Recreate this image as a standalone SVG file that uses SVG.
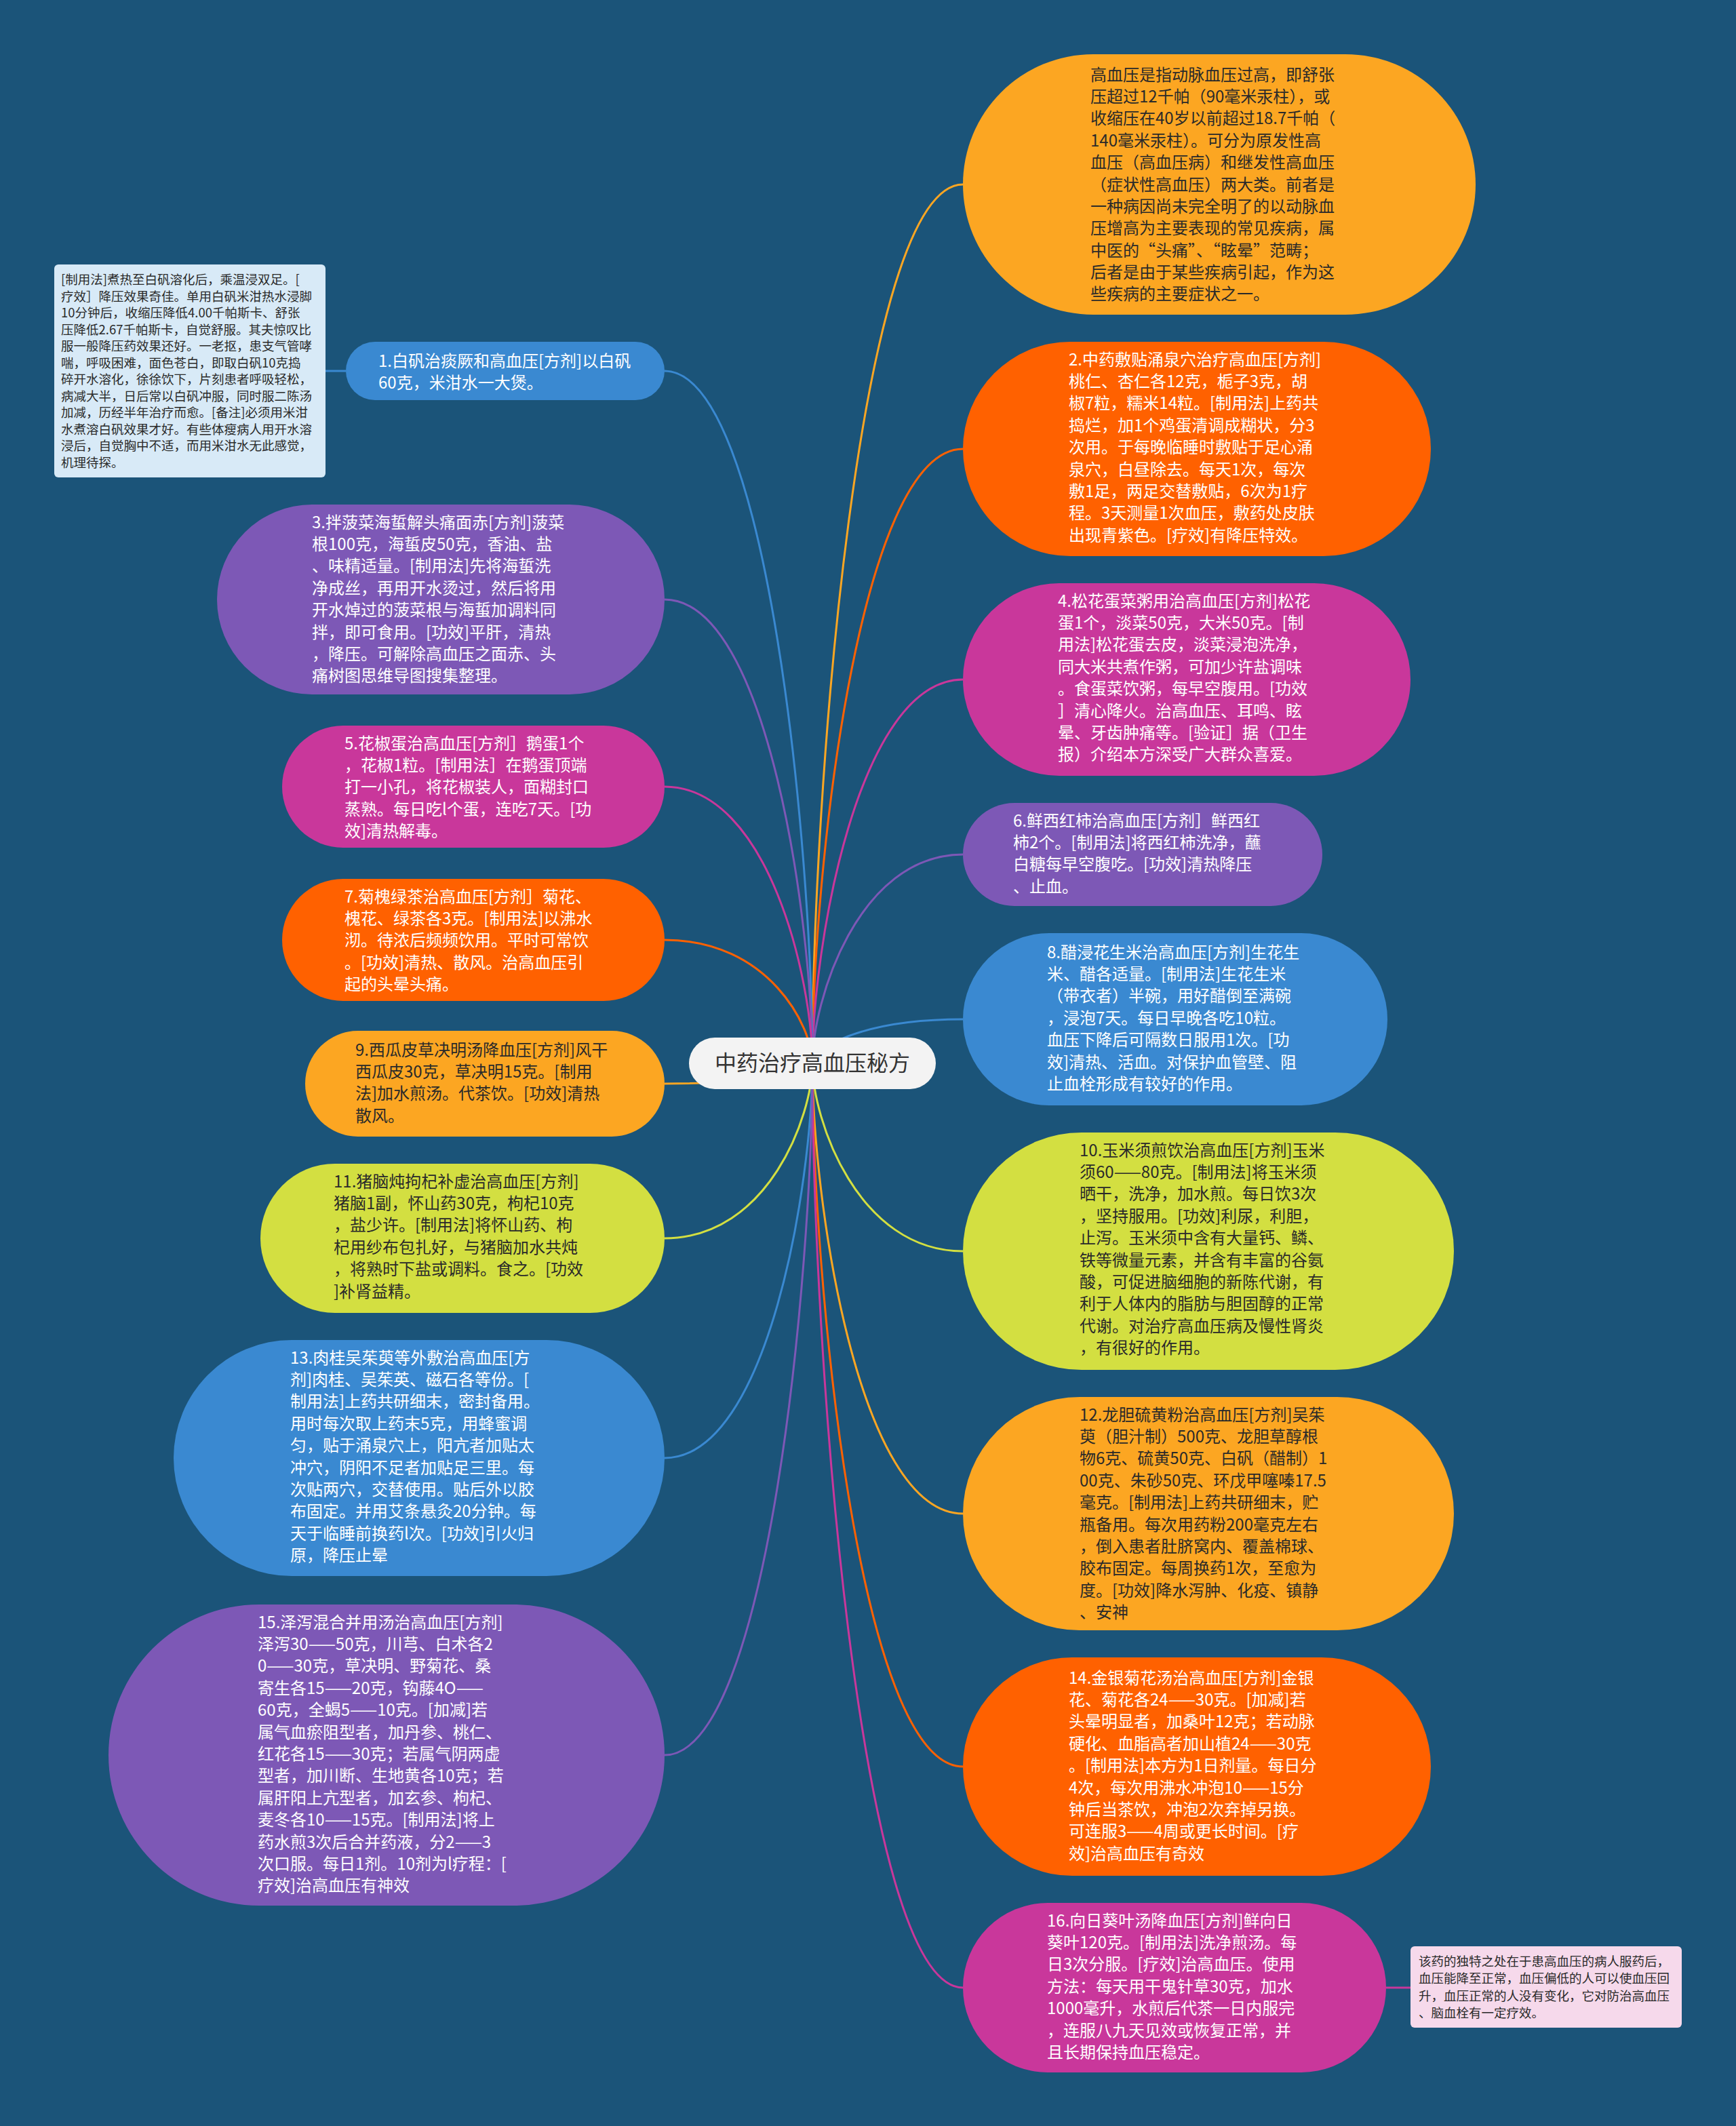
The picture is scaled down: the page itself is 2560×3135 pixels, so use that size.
<svg xmlns="http://www.w3.org/2000/svg" width="2560" height="3135" viewBox="0 0 2560 3135">
<style>
.t{font-family:"Noto Sans CJK SC","Noto Sans",sans-serif;font-size:24px}
.w{fill:#ffffff}
.d{fill:#2a2a2a}
.n{font-family:"Noto Sans CJK SC","Noto Sans",sans-serif;font-size:18.5px;fill:#2a2a2a}
.c{fill:none;stroke-width:3}
.or{fill:#FCA622}.rd{fill:#FF6100}.mg{fill:#C9379B}.pu{fill:#7D58B6}.bl{fill:#3A89D1}.yg{fill:#D3DF41}
.sor{stroke:#FCA622}.srd{stroke:#FF6100}.smg{stroke:#C9379B}.spu{stroke:#7D58B6}.sbl{stroke:#3A89D1}.syg{stroke:#D3DF41}
</style>
<rect x="0" y="0" width="2560" height="3135" fill="#1B5479"/>
<g id="connectors">
<path class="c sor" d="M1198 1568 C1198 1179 1265 272 1420 272"/>
<path class="c srd" d="M1198 1568 C1198 1296 1265 662 1420 662"/>
<path class="c smg" d="M1198 1568 C1198 1398 1265 1002 1420 1002"/>
<path class="c spu" d="M1198 1568 C1198 1476 1265 1260 1420 1260"/>
<path class="c sbl" d="M1198 1568 C1198 1548 1265 1503 1420 1503"/>
<path class="c syg" d="M1198 1568 C1198 1651 1265 1845 1420 1845"/>
<path class="c sor" d="M1198 1568 C1198 1767 1265 2232 1420 2232"/>
<path class="c srd" d="M1198 1568 C1198 1879 1265 2605 1420 2605"/>
<path class="c smg" d="M1198 1568 C1198 1977 1265 2931 1420 2931"/>
<path class="c sbl" d="M1198 1568 C1198 1262 1133 547 980 547"/>
<path class="c spu" d="M1198 1568 C1198 1363 1133 884 980 884"/>
<path class="c smg" d="M1198 1568 C1198 1446 1133 1160 980 1160"/>
<path class="c srd" d="M1198 1568 C1198 1513 1133 1386 980 1386"/>
<path class="c sor" d="M1198 1568 C1198 1577 1133 1598 980 1598"/>
<path class="c syg" d="M1198 1568 C1198 1645 1133 1826 980 1826"/>
<path class="c sbl" d="M1198 1568 C1198 1743 1133 2150 980 2150"/>
<path class="c spu" d="M1198 1568 C1198 1874 1133 2588 980 2588"/>
<path class="c sbl" d="M510 547 L480 547"/>
<path class="c smg" d="M2044 2931 L2080 2931"/>
</g>
<g id="center">
<rect x="1016" y="1530" width="364" height="76" rx="38" fill="#F3F3F3"/>
<text x="1198" y="1579" text-anchor="middle" style="font-family:'Noto Sans CJK SC',sans-serif;font-size:32px;fill:#333">中药治疗高血压秘方</text>
</g>
<g id="node-intro">
<rect class="or" x="1420" y="80" width="756" height="384" rx="192"/>
<text class="t d" x="1608" y="118.5"><tspan x="1608">高血压是指动脉血压过高，即舒张</tspan><tspan x="1608" dy="32.4">压超过12千帕（90毫米汞柱），或</tspan><tspan x="1608" dy="32.4">收缩压在40岁以前超过18.7千帕（</tspan><tspan x="1608" dy="32.4">140毫米汞柱）。可分为原发性高</tspan><tspan x="1608" dy="32.4">血压（高血压病）和继发性高血压</tspan><tspan x="1608" dy="32.4">（症状性高血压）两大类。前者是</tspan><tspan x="1608" dy="32.4">一种病因尚未完全明了的以动脉血</tspan><tspan x="1608" dy="32.4">压增高为主要表现的常见疾病，属</tspan><tspan x="1608" dy="32.4">中医的“头痛”、“眩晕”范畴；</tspan><tspan x="1608" dy="32.4">后者是由于某些疾病引起，作为这</tspan><tspan x="1608" dy="32.4">些疾病的主要症状之一。</tspan></text>
</g>
<g id="node-2">
<rect class="rd" x="1420" y="504" width="690" height="316" rx="158"/>
<text class="t w" x="1576" y="538.5"><tspan x="1576">2.中药敷贴涌泉穴治疗高血压[方剂]</tspan><tspan x="1576" dy="32.4">桃仁、杏仁各12克，栀子3克，胡</tspan><tspan x="1576" dy="32.4">椒7粒，糯米14粒。[制用法]上药共</tspan><tspan x="1576" dy="32.4">捣烂，加1个鸡蛋清调成糊状，分3</tspan><tspan x="1576" dy="32.4">次用。于每晚临睡时敷贴于足心涌</tspan><tspan x="1576" dy="32.4">泉穴，白昼除去。每天1次，每次</tspan><tspan x="1576" dy="32.4">敷1足，两足交替敷贴，6次为1疗</tspan><tspan x="1576" dy="32.4">程。3天测量1次血压，敷药处皮肤</tspan><tspan x="1576" dy="32.4">出现青紫色。[疗效]有降压特效。</tspan></text>
</g>
<g id="node-4">
<rect class="mg" x="1420" y="860" width="660" height="284" rx="142"/>
<text class="t w" x="1560" y="894.5"><tspan x="1560">4.松花蛋菜粥用治高血压[方剂]松花</tspan><tspan x="1560" dy="32.4">蛋1个，淡菜50克，大米50克。[制</tspan><tspan x="1560" dy="32.4">用法]松花蛋去皮，淡菜浸泡洗净，</tspan><tspan x="1560" dy="32.4">同大米共煮作粥，可加少许盐调味</tspan><tspan x="1560" dy="32.4">。食蛋菜饮粥，每早空腹用。[功效</tspan><tspan x="1560" dy="32.4">］清心降火。治高血压、耳鸣、眩</tspan><tspan x="1560" dy="32.4">晕、牙齿肿痛等。[验证］据（卫生</tspan><tspan x="1560" dy="32.4">报）介绍本方深受广大群众喜爱。</tspan></text>
</g>
<g id="node-6">
<rect class="pu" x="1420" y="1184" width="530" height="152" rx="76"/>
<text class="t w" x="1494" y="1218.5"><tspan x="1494">6.鲜西红柿治高血压[方剂］鲜西红</tspan><tspan x="1494" dy="32.4">柿2个。[制用法]将西红柿洗净，蘸</tspan><tspan x="1494" dy="32.4">白糖每早空腹吃。[功效]清热降压</tspan><tspan x="1494" dy="32.4">、止血。</tspan></text>
</g>
<g id="node-8">
<rect class="bl" x="1420" y="1376" width="626" height="254" rx="127"/>
<text class="t w" x="1544" y="1412.5"><tspan x="1544">8.醋浸花生米治高血压[方剂]生花生</tspan><tspan x="1544" dy="32.4">米、醋各适量。[制用法]生花生米</tspan><tspan x="1544" dy="32.4">（带衣者）半碗，用好醋倒至满碗</tspan><tspan x="1544" dy="32.4">，浸泡7天。每日早晚各吃10粒。</tspan><tspan x="1544" dy="32.4">血压下降后可隔数日服用1次。[功</tspan><tspan x="1544" dy="32.4">效]清热、活血。对保护血管壁、阻</tspan><tspan x="1544" dy="32.4">止血栓形成有较好的作用。</tspan></text>
</g>
<g id="node-10">
<rect class="yg" x="1420" y="1670" width="724" height="350" rx="175"/>
<text class="t d" x="1592" y="1704.5"><tspan x="1592">10.玉米须煎饮治高血压[方剂]玉米</tspan><tspan x="1592" dy="32.4">须60——80克。[制用法]将玉米须</tspan><tspan x="1592" dy="32.4">晒干，洗净，加水煎。每日饮3次</tspan><tspan x="1592" dy="32.4">，坚持服用。[功效]利尿，利胆，</tspan><tspan x="1592" dy="32.4">止泻。玉米须中含有大量钙、鳞、</tspan><tspan x="1592" dy="32.4">铁等微量元素，并含有丰富的谷氨</tspan><tspan x="1592" dy="32.4">酸，可促进脑细胞的新陈代谢，有</tspan><tspan x="1592" dy="32.4">利于人体内的脂肪与胆固醇的正常</tspan><tspan x="1592" dy="32.4">代谢。对治疗高血压病及慢性肾炎</tspan><tspan x="1592" dy="32.4">，有很好的作用。</tspan></text>
</g>
<g id="node-12">
<rect class="or" x="1420" y="2060" width="724" height="344" rx="172"/>
<text class="t d" x="1592" y="2094.5"><tspan x="1592">12.龙胆硫黄粉治高血压[方剂]吴茱</tspan><tspan x="1592" dy="32.4">萸（胆汁制）500克、龙胆草醇根</tspan><tspan x="1592" dy="32.4">物6克、硫黄50克、白矾（醋制）1</tspan><tspan x="1592" dy="32.4">00克、朱砂50克、环戊甲噻嗪17.5</tspan><tspan x="1592" dy="32.4">毫克。[制用法]上药共研细末，贮</tspan><tspan x="1592" dy="32.4">瓶备用。每次用药粉200毫克左右</tspan><tspan x="1592" dy="32.4">，倒入患者肚脐窝内、覆盖棉球、</tspan><tspan x="1592" dy="32.4">胶布固定。每周换药1次，至愈为</tspan><tspan x="1592" dy="32.4">度。[功效]降水泻肿、化疫、镇静</tspan><tspan x="1592" dy="32.4">、安神</tspan></text>
</g>
<g id="node-14">
<rect class="rd" x="1420" y="2444" width="690" height="322" rx="161"/>
<text class="t w" x="1576" y="2482.5"><tspan x="1576">14.金银菊花汤治高血压[方剂]金银</tspan><tspan x="1576" dy="32.4">花、菊花各24——30克。[加减]若</tspan><tspan x="1576" dy="32.4">头晕明显者，加桑叶12克；若动脉</tspan><tspan x="1576" dy="32.4">硬化、血脂高者加山植24——30克</tspan><tspan x="1576" dy="32.4">。[制用法]本方为1日剂量。每日分</tspan><tspan x="1576" dy="32.4">4次，每次用沸水冲泡10——15分</tspan><tspan x="1576" dy="32.4">钟后当茶饮，冲泡2次弃掉另换。</tspan><tspan x="1576" dy="32.4">可连服3——4周或更长时间。[疗</tspan><tspan x="1576" dy="32.4">效]治高血压有奇效</tspan></text>
</g>
<g id="node-16">
<rect class="mg" x="1420" y="2806" width="624" height="250" rx="125"/>
<text class="t w" x="1544" y="2840.5"><tspan x="1544">16.向日葵叶汤降血压[方剂]鲜向日</tspan><tspan x="1544" dy="32.4">葵叶120克。[制用法]洗净煎汤。每</tspan><tspan x="1544" dy="32.4">日3次分服。[疗效]治高血压。使用</tspan><tspan x="1544" dy="32.4">方法：每天用干鬼针草30克，加水</tspan><tspan x="1544" dy="32.4">1000毫升，水煎后代茶一日内服完</tspan><tspan x="1544" dy="32.4">，连服八九天见效或恢复正常，并</tspan><tspan x="1544" dy="32.4">且长期保持血压稳定。</tspan></text>
</g>
<g id="note-16">
<rect x="2080" y="2870" width="400" height="120" rx="6" fill="#F6D9EB"/>
<text class="n" x="2092" y="2899"><tspan x="2092">该药的独特之处在于患高血压的病人服药后，</tspan><tspan x="2092" dy="25.3">血压能降至正常，血压偏低的人可以使血压回</tspan><tspan x="2092" dy="25.3">升，血压正常的人没有变化，它对防治高血压</tspan><tspan x="2092" dy="25.3">、脑血栓有一定疗效。</tspan></text>
</g>
<g id="note-1">
<rect x="80" y="390" width="400" height="314" rx="6" fill="#D8EAF7"/>
<text class="n" x="90" y="419"><tspan x="90">[制用法]煮热至白矾溶化后，乘温浸双足。[</tspan><tspan x="90" dy="24.5">疗效］降压效果奇佳。单用白矾米泔热水浸脚</tspan><tspan x="90" dy="24.5">10分钟后，收缩压降低4.00千帕斯卡、舒张</tspan><tspan x="90" dy="24.5">压降低2.67千帕斯卡，自觉舒服。其夫惊叹比</tspan><tspan x="90" dy="24.5">服一般降压药效果还好。一老抠，患支气管哮</tspan><tspan x="90" dy="24.5">喘，呼吸困难，面色苍白，即取白矾10克捣</tspan><tspan x="90" dy="24.5">碎开水溶化，徐徐饮下，片刻患者呼吸轻松，</tspan><tspan x="90" dy="24.5">病减大半，日后常以白矾冲服，同时服二陈汤</tspan><tspan x="90" dy="24.5">加减，历经半年治疗而愈。[备注]必须用米泔</tspan><tspan x="90" dy="24.5">水煮溶白矾效果才好。有些体瘦病人用开水溶</tspan><tspan x="90" dy="24.5">浸后，自觉胸中不适，而用米泔水无此感觉，</tspan><tspan x="90" dy="24.5">机理待探。</tspan></text>
</g>
<g id="node-1">
<rect class="bl" x="510" y="504" width="470" height="86" rx="43"/>
<text class="t w" x="558" y="540.5"><tspan x="558">1.白矾治痰厥和高血压[方剂]以白矾</tspan><tspan x="558" dy="32.4">60克，米泔水一大煲。</tspan></text>
</g>
<g id="node-3">
<rect class="pu" x="320" y="744" width="660" height="280" rx="140"/>
<text class="t w" x="460" y="778.5"><tspan x="460">3.拌菠菜海蜇解头痛面赤[方剂]菠菜</tspan><tspan x="460" dy="32.4">根100克，海蜇皮50克，香油、盐</tspan><tspan x="460" dy="32.4">、味精适量。[制用法]先将海蜇洗</tspan><tspan x="460" dy="32.4">净成丝，再用开水烫过，然后将用</tspan><tspan x="460" dy="32.4">开水焯过的菠菜根与海蜇加调料同</tspan><tspan x="460" dy="32.4">拌，即可食用。[功效]平肝，清热</tspan><tspan x="460" dy="32.4">，降压。可解除高血压之面赤、头</tspan><tspan x="460" dy="32.4">痛树图思维导图搜集整理。</tspan></text>
</g>
<g id="node-5">
<rect class="mg" x="416" y="1070" width="564" height="180" rx="90"/>
<text class="t w" x="508" y="1104.5"><tspan x="508">5.花椒蛋治高血压[方剂］鹅蛋1个</tspan><tspan x="508" dy="32.4">，花椒1粒。[制用法］在鹅蛋顶端</tspan><tspan x="508" dy="32.4">打一小孔，将花椒装人，面糊封口</tspan><tspan x="508" dy="32.4">蒸熟。每日吃l个蛋，连吃7天。[功</tspan><tspan x="508" dy="32.4">效]清热解毒。</tspan></text>
</g>
<g id="node-7">
<rect class="rd" x="416" y="1296" width="564" height="180" rx="90"/>
<text class="t w" x="508" y="1330.5"><tspan x="508">7.菊槐绿茶治高血压[方剂］菊花、</tspan><tspan x="508" dy="32.4">槐花、绿茶各3克。[制用法]以沸水</tspan><tspan x="508" dy="32.4">沏。待浓后频频饮用。平时可常饮</tspan><tspan x="508" dy="32.4">。[功效]清热、散风。治高血压引</tspan><tspan x="508" dy="32.4">起的头晕头痛。</tspan></text>
</g>
<g id="node-9">
<rect class="or" x="450" y="1520" width="530" height="156" rx="78"/>
<text class="t d" x="524" y="1556.5"><tspan x="524">9.西瓜皮草决明汤降血压[方剂]风干</tspan><tspan x="524" dy="32.4">西瓜皮30克，草决明15克。[制用</tspan><tspan x="524" dy="32.4">法]加水煎汤。代茶饮。[功效]清热</tspan><tspan x="524" dy="32.4">散风。</tspan></text>
</g>
<g id="node-11">
<rect class="yg" x="384" y="1716" width="596" height="220" rx="110"/>
<text class="t d" x="492" y="1750.5"><tspan x="492">11.猪脑炖拘杞补虚治高血压[方剂]</tspan><tspan x="492" dy="32.4">猪脑1副，怀山药30克，枸杞10克</tspan><tspan x="492" dy="32.4">，盐少许。[制用法]将怀山药、枸</tspan><tspan x="492" dy="32.4">杞用纱布包扎好，与猪脑加水共炖</tspan><tspan x="492" dy="32.4">，将熟时下盐或调料。食之。[功效</tspan><tspan x="492" dy="32.4">]补肾益精。</tspan></text>
</g>
<g id="node-13">
<rect class="bl" x="256" y="1976" width="724" height="348" rx="174"/>
<text class="t w" x="428" y="2010.5"><tspan x="428">13.肉桂吴茱萸等外敷治高血压[方</tspan><tspan x="428" dy="32.4">剂]肉桂、吴茱英、磁石各等份。[</tspan><tspan x="428" dy="32.4">制用法]上药共研细末，密封备用。</tspan><tspan x="428" dy="32.4">用时每次取上药末5克，用蜂蜜调</tspan><tspan x="428" dy="32.4">匀，贴于涌泉穴上，阳亢者加贴太</tspan><tspan x="428" dy="32.4">冲穴，阴阳不足者加贴足三里。每</tspan><tspan x="428" dy="32.4">次贴两穴，交替使用。贴后外以胶</tspan><tspan x="428" dy="32.4">布固定。并用艾条悬灸20分钟。每</tspan><tspan x="428" dy="32.4">天于临睡前换药l次。[功效]引火归</tspan><tspan x="428" dy="32.4">原，降压止晕</tspan></text>
</g>
<g id="node-15">
<rect class="pu" x="160" y="2366" width="820" height="444" rx="222"/>
<text class="t w" x="380" y="2400.5"><tspan x="380">15.泽泻混合并用汤治高血压[方剂]</tspan><tspan x="380" dy="32.4">泽泻30——50克，川芎、白术各2</tspan><tspan x="380" dy="32.4">0——30克，草决明、野菊花、桑</tspan><tspan x="380" dy="32.4">寄生各15——20克，钩藤4O——</tspan><tspan x="380" dy="32.4">60克，全蝎5——10克。[加减]若</tspan><tspan x="380" dy="32.4">属气血瘀阻型者，加丹参、桃仁、</tspan><tspan x="380" dy="32.4">红花各15——30克；若属气阴两虚</tspan><tspan x="380" dy="32.4">型者，加川断、生地黄各10克；若</tspan><tspan x="380" dy="32.4">属肝阳上亢型者，加玄参、枸杞、</tspan><tspan x="380" dy="32.4">麦冬各10——15克。[制用法]将上</tspan><tspan x="380" dy="32.4">药水煎3次后合并药液，分2——3</tspan><tspan x="380" dy="32.4">次口服。每日1剂。10剂为l疗程：[</tspan><tspan x="380" dy="32.4">疗效]治高血压有神效</tspan></text>
</g>
</svg>
